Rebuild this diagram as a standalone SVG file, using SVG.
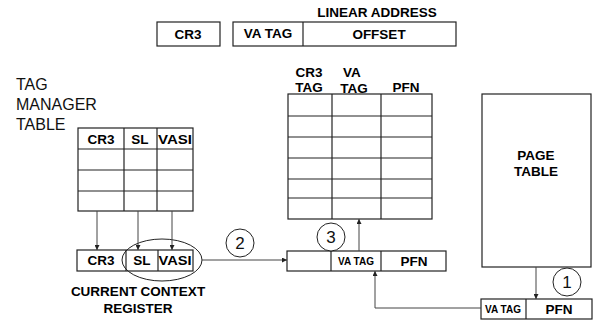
<svg xmlns="http://www.w3.org/2000/svg" width="600" height="327" viewBox="0 0 600 327">
<style>
.b{fill:#fff;stroke:#222;stroke-width:1.2}
.l{stroke:#222;stroke-width:1.2;fill:none}
.a{stroke:#444;stroke-width:1;fill:none}
.t{font-family:"Liberation Sans",Arial,sans-serif;font-weight:bold;font-size:13.5px;fill:#000;text-anchor:middle}
.s{font-family:"Liberation Sans",Arial,sans-serif;font-weight:bold;font-size:10px;fill:#000;text-anchor:middle}
.n{font-family:"Liberation Sans",Arial,sans-serif;font-size:16px;fill:#111}
.d{font-family:"Liberation Sans",Arial,sans-serif;font-size:17px;fill:#111;text-anchor:middle}
.c{fill:#fff;stroke:#222;stroke-width:1}
</style>
<defs>
<marker id="ah" viewBox="0 0 8 8" refX="8" refY="4" markerWidth="5" markerHeight="5" orient="auto" markerUnits="userSpaceOnUse">
<path d="M0,0 L8,4 L0,8 z" fill="#222"/>
</marker>
</defs>
<rect width="600" height="327" fill="#fff"/>
<g id="linear-address">
<text class="t" x="377" y="17">LINEAR ADDRESS</text>
<rect class="b" x="157" y="22" width="63" height="24"/>
<text class="t" x="188" y="39">CR3</text>
<rect class="b" x="233" y="22" width="223" height="24"/>
<line class="l" x1="303" y1="22" x2="303" y2="46"/>
<text class="t" x="268" y="38">VA TAG</text>
<text class="t" x="379" y="39">OFFSET</text>
</g>
<g id="tag-manager-table">
<text class="n" x="16" y="90">TAG</text>
<text class="n" x="16" y="110">MANAGER</text>
<text class="n" x="16" y="130">TABLE</text>
<rect class="b" x="78" y="128" width="115" height="83"/>
<line class="l" x1="78" y1="149" x2="193" y2="149"/>
<line class="l" x1="78" y1="170" x2="193" y2="170"/>
<line class="l" x1="78" y1="191" x2="193" y2="191"/>
<line class="l" x1="124" y1="128" x2="124" y2="211"/>
<line class="l" x1="157" y1="128" x2="157" y2="211"/>
<text class="t" x="101" y="144">CR3</text>
<text class="t" x="140" y="144">SL</text>
<text class="t" x="175" y="144" textLength="34" lengthAdjust="spacingAndGlyphs">VASI</text>
</g>
<g id="tlb">
<text class="t" x="309" y="77">CR3</text>
<text class="t" x="309" y="92">TAG</text>
<text class="t" x="352" y="77">VA</text>
<text class="t" x="354" y="93">TAG</text>
<text class="t" x="406" y="92">PFN</text>
<rect class="b" x="288" y="94" width="144" height="125"/>
<line class="l" x1="288" y1="116" x2="432" y2="116"/>
<line class="l" x1="288" y1="137" x2="432" y2="137"/>
<line class="l" x1="288" y1="158" x2="432" y2="158"/>
<line class="l" x1="288" y1="179" x2="432" y2="179"/>
<line class="l" x1="288" y1="198" x2="432" y2="198"/>
<line class="l" x1="332" y1="94" x2="332" y2="219"/>
<line class="l" x1="381" y1="94" x2="381" y2="219"/>
</g>
<g id="page-table">
<rect class="b" x="482" y="94" width="109" height="173"/>
<text class="t" x="536" y="160">PAGE</text>
<text class="t" x="536" y="176">TABLE</text>
</g>
<g id="current-context-register">
<rect class="b" x="77" y="250" width="116" height="21"/>
<line class="l" x1="126" y1="250" x2="126" y2="271"/>
<line class="l" x1="158" y1="250" x2="158" y2="271"/>
<text class="t" x="101" y="265">CR3</text>
<text class="t" x="142" y="265">SL</text>
<text class="t" x="175" y="265" textLength="33" lengthAdjust="spacingAndGlyphs">VASI</text>
<ellipse cx="162" cy="260" rx="40" ry="21" fill="none" stroke="#222" stroke-width="1"/>
<text class="t" x="138" y="296">CURRENT CONTEXT</text>
<text class="t" x="138" y="313">REGISTER</text>
</g>
<g id="tlb-register">
<rect class="b" x="287" y="251" width="159" height="20"/>
<line class="l" x1="331" y1="251" x2="331" y2="271"/>
<line class="l" x1="381" y1="251" x2="381" y2="271"/>
<text class="s" x="356" y="265">VA TAG</text>
<text class="t" x="414" y="266">PFN</text>
</g>
<g id="pte-register">
<rect class="b" x="481" y="299" width="111" height="20"/>
<line class="l" x1="526" y1="299" x2="526" y2="319"/>
<text class="s" x="503" y="313">VA TAG</text>
<text class="t" x="559" y="314">PFN</text>
</g>
<g id="step-labels">
<circle class="c" cx="240" cy="243" r="14"/>
<text class="d" x="240" y="249">2</text>
<circle class="c" cx="331" cy="237" r="14"/>
<text class="d" x="331" y="243">3</text>
<circle class="c" cx="567" cy="282" r="14"/>
<text class="d" x="567" y="288">1</text>
</g>
<g id="connectors">
<line class="a" x1="97" y1="211" x2="97" y2="250" marker-end="url(#ah)"/>
<line class="a" x1="138" y1="211" x2="138" y2="250" marker-end="url(#ah)"/>
<line class="a" x1="172" y1="211" x2="172" y2="250" marker-end="url(#ah)"/>
<line class="a" x1="202" y1="260" x2="287" y2="260" marker-end="url(#ah)"/>
<line class="a" x1="359" y1="251" x2="359" y2="219" marker-end="url(#ah)"/>
<line class="a" x1="536" y1="267" x2="536" y2="299" marker-end="url(#ah)"/>
<polyline class="a" points="481,308 375,308 375,271" marker-end="url(#ah)"/>
</g>
</svg>
